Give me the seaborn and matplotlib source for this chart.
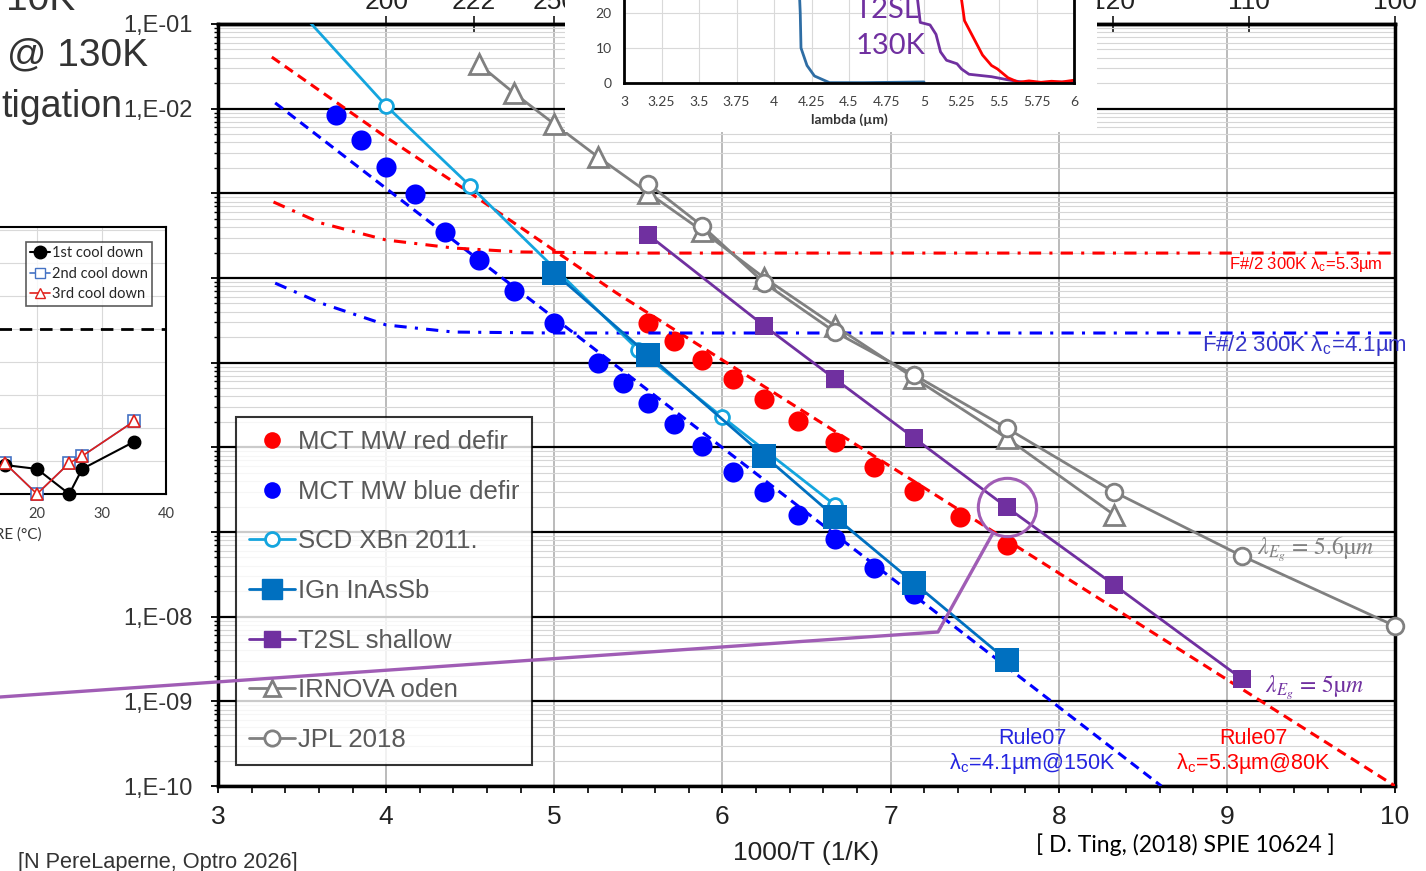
import numpy as np
import matplotlib
matplotlib.use("Agg")
import matplotlib.pyplot as plt
import matplotlib.ticker as mticker
from matplotlib.lines import Line2D
from matplotlib.patches import Rectangle
import seaborn as sns


# ---------------------------------------------------------------------------
# Main chart: dark current density vs 1000/T
# ---------------------------------------------------------------------------

mct_red_x = [5.56, 5.71, 5.88, 6.06, 6.25, 6.45, 6.67, 6.90, 7.14, 7.41, 7.69]
mct_red_y = [2.94e-5, 1.80e-5, 1.08e-5, 6.4e-6, 3.7e-6, 2.05e-6, 1.16e-6,
             5.9e-7, 3.05e-7, 1.50e-7, 7.0e-8]

mct_blue_x = [3.70, 3.85, 4.00, 4.17, 4.35, 4.55, 4.76, 5.00, 5.26, 5.41,
              5.56, 5.71, 5.88, 6.06, 6.25, 6.45, 6.67, 6.90, 7.14]
mct_blue_y = [8.4e-3, 4.27e-3, 2.05e-3, 9.8e-4, 3.5e-4, 1.63e-4, 7.0e-5,
              2.94e-5, 9.9e-6, 5.75e-6, 3.34e-6, 1.89e-6, 1.04e-6, 5.1e-7,
              2.97e-7, 1.59e-7, 8.3e-8, 3.76e-8, 1.85e-8]

scd_x = [3.33, 4.00, 4.50, 5.50, 6.00, 6.67]
scd_y = [0.31, 1.08e-2, 1.22e-3, 1.41e-5, 2.28e-6, 2.08e-7]

ign_x = [5.00, 5.56, 6.25, 6.67, 7.14, 7.69]
ign_y = [1.15e-4, 1.23e-5, 7.9e-7, 1.50e-7, 2.50e-8, 3.08e-9]

t2sl_x = [5.56, 6.25, 6.67, 7.14, 7.69, 8.33, 9.09]
t2sl_y = [3.22e-4, 2.71e-5, 6.41e-6, 1.29e-6, 1.97e-7, 2.37e-8, 1.84e-9]

irnova_x = [4.55, 4.76, 5.00, 5.26, 5.56, 5.88, 6.25, 6.67, 7.14, 7.69, 8.33]
irnova_y = [3.37e-2, 1.53e-2, 6.59e-3, 2.69e-3, 1.01e-3, 3.59e-4, 1.0e-4,
            2.71e-5, 6.59e-6, 1.29e-6, 1.59e-7]

jpl_x = [5.56, 5.88, 6.25, 6.67, 7.14, 7.69, 8.33, 9.09, 10.0]
jpl_y = [1.29e-3, 4.11e-4, 8.7e-5, 2.30e-5, 7.16e-6, 1.69e-6, 2.97e-7,
         5.21e-8, 7.76e-9]

# Rule07 and F/2 BLIP reference curves
rule_red_x = [3.32, 4.0, 4.5, 5.37, 7.69, 10.0]
rule_red_y = [4.07e-2, 4.6e-3, 1.01e-3, 6.65e-5, 8.05e-8, 1.0e-10]
rule_blue_x = [3.34, 8.61]
rule_blue_y = [1.17e-2, 1.0e-10]
blip_red_x = [3.33, 3.61, 4.0, 4.40, 4.80, 5.39, 10.0]
blip_red_y = [7.9e-4, 4.47e-4, 2.81e-4, 2.26e-4, 2.03e-4, 1.97e-4, 1.97e-4]
blip_blue_x = [3.34, 3.61, 4.0, 4.40, 4.99, 10.0]
blip_blue_y = [8.7e-5, 5.07e-5, 2.79e-5, 2.30e-5, 2.24e-5, 2.24e-5]

top_tick_pos = [4.0, 4.52, 5.0, 8.32, 9.13, 10.0]
top_tick_lab = ["200", "222", "250", "120", "110", "100"]
y_label_exps = [-1, -2, -8, -9, -10]

# ---------------------------------------------------------------------------
# Inset (top): spectral response vs lambda
# ---------------------------------------------------------------------------

lam_blue_x = [4.165, 4.175, 4.18, 4.22, 4.27, 4.37, 4.6, 4.8, 5.0]
lam_blue_y = [30, 20, 10, 5, 2, 0.1, 0.1, 0.2, 0.3]
lam_purple_x = [4.94, 4.975, 5.04, 5.08, 5.11, 5.15, 5.22, 5.25, 5.30,
                5.45, 5.56, 5.68, 6.0]
lam_purple_y = [30, 17.3, 16.6, 13.9, 8.9, 6.5, 5.5, 4.0, 2.5, 1.8, 0.9, 0.1, 0.3]
lam_red_x = [5.23, 5.27, 5.33, 5.39, 5.45, 5.49, 5.56, 5.63, 5.70, 5.78,
             5.85, 5.92, 6.00]
lam_red_y = [30, 17.8, 12.9, 8.0, 5.0, 4.0, 1.5, 0.2, 0.6, 0.2, 0.5, 0.3, 0.8]

# ---------------------------------------------------------------------------
# Inset (left): cool-down test vs temperature
# ---------------------------------------------------------------------------

temp_x = [15, 20, 25, 27, 35]
cool1_y = [0.88, 0.76, 0.0, 0.76, 1.58]
cool2_y = [0.94, 0.0, 0.94, 1.15, 2.2]
cool3_y = [0.94, 0.0, 0.94, 1.15, 2.2]
cool_limit = 5.0

W, H = 1426, 871
RED, BLUE = "#FF0000", "#0000FF"
SCD_C, IGN_C, T2SL_C, GRAY = "#14A5DE", "#0070C0", "#7030A0", "#808080"
CALLOUT = "#A05DB5"
NARROW = ["Liberation Sans Narrow", "Liberation Sans", "DejaVu Sans"]
CALIBRI = ["Lato", "DejaVu Sans"]


def rect(x0, y0, x1, y1):
    """pixel box (left, top, right, bottom) -> figure-fraction rect"""
    return [x0 / W, 1 - y1 / H, (x1 - x0) / W, (y1 - y0) / H]


def fx(x):
    return x / W


def fy(y):
    return 1 - y / H


sns.set_theme(style="white")
plt.rcParams["font.family"] = ["Liberation Sans", "DejaVu Sans"]
plt.rcParams["mathtext.fontset"] = "stix"

fig = plt.figure(figsize=(W / 100, H / 100), dpi=100)

# --- main axes ---
ax = fig.add_axes(rect(218, 24, 1395, 786))
ax.set_yscale("log")
ax.set_xlim(3, 10)
ax.set_ylim(1e-10, 1e-1)
ax.xaxis.set_major_locator(mticker.MultipleLocator(1))
ax.xaxis.set_minor_locator(mticker.MultipleLocator(0.2))
ax.yaxis.set_major_locator(mticker.LogLocator(base=10, numticks=20))
ax.yaxis.set_minor_locator(mticker.LogLocator(base=10, subs=np.arange(2, 10), numticks=20))
ax.yaxis.set_major_formatter(mticker.FuncFormatter(
    lambda v, p: f"1,E-{-int(round(np.log10(v))):02d}"
    if int(round(np.log10(v))) in y_label_exps else ""))
ax.yaxis.set_minor_formatter(mticker.NullFormatter())
ax.grid(True, which="minor", axis="y", color="#d6d6d6", lw=0.8)
ax.grid(True, which="major", axis="y", color="black", lw=1.6)
ax.grid(True, which="major", axis="x", color="#b5b5b5", lw=1.3)
ax.set_axisbelow(True)
for s in ax.spines.values():
    s.set_color("black")
    s.set_linewidth(2.5)
ax.tick_params(which="both", bottom=True, left=True, direction="out", color="black")
ax.tick_params(axis="x", which="major", length=5, width=1.3, labelsize=19,
               labelcolor="#222222", pad=9)
ax.tick_params(axis="x", which="minor", length=5, width=1.2)
ax.tick_params(axis="y", which="major", length=5, width=1.3, labelsize=17,
               labelcolor="#333333", pad=13)
ax.tick_params(axis="y", which="minor", length=3, width=1)
ax.set_xlabel("1000/T (1/K)", fontsize=19, color="#222222", labelpad=8)

sec = ax.secondary_xaxis("top")
sec.set_xticks(top_tick_pos, labels=top_tick_lab)
sec.tick_params(direction="inout", length=12, width=1.3, labelsize=19,
                labelcolor="#222222", pad=1)
sec.spines["top"].set_linewidth(2.5)

# data
sns.scatterplot(x=mct_red_x, y=mct_red_y, ax=ax, color=RED, s=210, linewidth=0, zorder=3)
sns.scatterplot(x=mct_blue_x, y=mct_blue_y, ax=ax, color=BLUE, s=210, linewidth=0, zorder=3)

ax.plot(rule_red_x, rule_red_y, color=RED, lw=2.2, ls=(0, (3.2, 2)), zorder=4)
ax.plot(rule_blue_x, rule_blue_y, color=BLUE, lw=2.2, ls=(0, (3.2, 2)), zorder=4)
ax.plot(blip_red_x, blip_red_y, color=RED, lw=2.2, ls=(0, (4, 2.7, 1, 2.7)), zorder=4)
ax.plot(blip_blue_x, blip_blue_y, color=BLUE, lw=2.2, ls=(0, (4, 2.7, 1, 2.7)), zorder=4)

sns.lineplot(x=scd_x, y=scd_y, ax=ax, color=SCD_C, lw=2, marker="o", ms=10,
             mfc="white", mec=SCD_C, mew=2, estimator=None, sort=False, zorder=5)
sns.lineplot(x=ign_x, y=ign_y, ax=ax, color=IGN_C, lw=2, marker="s", ms=17,
             mfc=IGN_C, mec=IGN_C, mew=0, estimator=None, sort=False, zorder=6)
sns.lineplot(x=t2sl_x, y=t2sl_y, ax=ax, color=T2SL_C, lw=2, marker="s", ms=13,
             mfc=T2SL_C, mec=T2SL_C, mew=0, estimator=None, sort=False, zorder=6)
sns.lineplot(x=irnova_x, y=irnova_y, ax=ax, color=GRAY, lw=2, marker="^", ms=14,
             mfc="white", mec=GRAY, mew=2, estimator=None, sort=False, zorder=6)
sns.lineplot(x=jpl_x, y=jpl_y, ax=ax, color=GRAY, lw=2, marker="o", ms=12,
             mfc="white", mec=GRAY, mew=2, estimator=None, sort=False, zorder=7,
             clip_on=False)

# callout circle around the 130K T2SL point
ax.plot(t2sl_x[4], t2sl_y[4], marker="o", ms=42, mfc="none", mec=CALLOUT, mew=2.2, zorder=8)
fig.add_artist(Line2D([fx(993), fx(938), fx(0)], [fy(533), fy(632), fy(697)],
                      transform=fig.transFigure, color=CALLOUT, lw=2.4, zorder=3))

handles = [
    Line2D([], [], ls="none", marker="o", ms=12, color=RED, mec="none", label="MCT MW red defir"),
    Line2D([], [], ls="none", marker="o", ms=12, color=BLUE, mec="none", label="MCT MW blue defir"),
    Line2D([], [], color=SCD_C, lw=2, marker="o", ms=10, mfc="white", mec=SCD_C, mew=2, label="SCD XBn 2011."),
    Line2D([], [], color=IGN_C, lw=2, marker="s", ms=14, mfc=IGN_C, mec=IGN_C, label="IGn InAsSb"),
    Line2D([], [], color=T2SL_C, lw=2, marker="s", ms=12, mfc=T2SL_C, mec=T2SL_C, label="T2SL shallow"),
    Line2D([], [], color=GRAY, lw=2, marker="^", ms=12, mfc="white", mec=GRAY, mew=2, label="IRNOVA oden"),
    Line2D([], [], color=GRAY, lw=2, marker="o", ms=11, mfc="white", mec=GRAY, mew=2, label="JPL 2018"),
]
leg = ax.legend(handles=handles, loc="upper left",
                bbox_to_anchor=((236 - 218) / 1177, (786 - 417) / 762),
                borderaxespad=0, frameon=True, fancybox=False, fontsize=18.5,
                labelcolor="#595959", handlelength=1.8, handletextpad=0.12,
                labelspacing=1.0, borderpad=0.5)
leg.get_frame().set_edgecolor("black")
leg.get_frame().set_linewidth(1.5)
leg.set_zorder(10)

# annotations
fig.text(fx(1383), fy(264), r"F#/2 300K λ$_\mathregular{c}$=5.3µm", ha="right", va="center",
         color=RED, fontsize=12, family=NARROW)
fig.text(fx(1407), fy(345), r"F#/2 300K λ$_\mathregular{c}$=4.1µm", ha="right", va="center",
         color="#3535C8", fontsize=16, family=NARROW)
fig.text(fx(1257), fy(549), r"$\lambda_{E_g}$ = 5.6µ$m$", ha="left", va="center",
         color=GRAY, fontsize=17, family="STIXGeneral")
fig.text(fx(1265), fy(688), r"$\lambda_{E_g}$ = 5µ$m$", ha="left", va="center",
         color=T2SL_C, fontsize=17, family="STIXGeneral")
fig.text(fx(1032), fy(752), "Rule07\n" + r"λ$_\mathregular{c}$=4.1µm@150K", ha="center",
         va="center", color="#2424E0", fontsize=15.5, linespacing=1.1)
fig.text(fx(1253), fy(752), "Rule07\n" + r"λ$_\mathregular{c}$=5.3µm@80K", ha="center",
         va="center", color=RED, fontsize=15.5, linespacing=1.1)
fig.text(fx(1185), fy(845), "[ D. Ting, (2018) SPIE 10624 ]", ha="center", va="center",
         color="black", fontsize=16.5, family=CALIBRI)
fig.text(fx(18), fy(862), "[N PereLaperne, Optro 2026]", ha="left", va="center",
         color="#333333", fontsize=15.7, family=NARROW)

# slide text fragments at top left
fig.text(fx(75), fy(10), "10K", ha="right", va="baseline", fontsize=28, color="#333333")
fig.text(fx(148), fy(65), "@ 130K", ha="right", va="baseline", fontsize=28, color="#333333")
fig.text(fx(122), fy(117), "tigation", ha="right", va="baseline", fontsize=27, color="#333333")

# --- top inset: spectral response ---
fig.add_artist(Rectangle((fx(565), fy(132)), (1097 - 565) / W, 132 / H,
                         transform=fig.transFigure, facecolor="white",
                         edgecolor="none", zorder=4))
axt = fig.add_axes(rect(624, -4.5, 1074, 83), zorder=6)
axt.set_facecolor("white")
sns.lineplot(x=lam_blue_x, y=lam_blue_y, ax=axt, color="#2E6DA4", lw=2,
             estimator=None, sort=False)
sns.lineplot(x=lam_purple_x, y=lam_purple_y, ax=axt, color=T2SL_C, lw=2,
             estimator=None, sort=False)
sns.lineplot(x=lam_red_x, y=lam_red_y, ax=axt, color=RED, lw=2,
             estimator=None, sort=False)
axt.set_xlim(3, 6)
axt.set_ylim(0, 25)
axt.set_xticks(np.arange(3, 6.01, 0.25))
axt.xaxis.set_major_formatter(mticker.FormatStrFormatter("%g"))
axt.set_yticks([0, 10, 20])
axt.grid(True, color="#d9d9d9", lw=0.8)
axt.spines["top"].set_visible(False)
for s in ["left", "bottom", "right"]:
    axt.spines[s].set_color("black")
    axt.spines[s].set_linewidth(2)
axt.tick_params(axis="x", length=0, labelsize=10, labelcolor="#404040", pad=9,
                labelfontfamily="Lato")
axt.tick_params(axis="y", length=0, labelsize=10, labelcolor="#404040", pad=9,
                labelfontfamily="Lato")
axt.set_xlabel("lambda (µm)", fontsize=10, fontweight="bold", family=CALIBRI,
               color="#333333", labelpad=4)
axt.set_ylabel("")
fig.text(fx(887), fy(10), "T2SL", ha="center", va="center", fontsize=21,
         color=T2SL_C, family=CALIBRI, zorder=10)
fig.text(fx(891), fy(46), "130K", ha="center", va="center", fontsize=21,
         color=T2SL_C, family=CALIBRI, zorder=10)

# --- left inset: cool-down test ---
axl = fig.add_axes(rect(-92, 227, 166, 494), zorder=5)
axl.set_facecolor("white")
axl.axhline(cool_limit, color="black", lw=2, ls=(0, (4.5, 2.8)))
sns.lineplot(x=temp_x, y=cool1_y, ax=axl, color="black", lw=1.5, marker="o", ms=9,
             mec="black", mew=1, estimator=None, sort=False, clip_on=False, zorder=5)
sns.lineplot(x=temp_x, y=cool2_y, ax=axl, color="#4472C4", lw=1.2, marker="s", ms=8,
             mfc="white", mec="#4472C4", mew=1.2, estimator=None, sort=False,
             clip_on=False, zorder=4)
sns.lineplot(x=temp_x, y=cool3_y, ax=axl, color="#E0201B", lw=1.2, marker="^", ms=8,
             mfc="white", mec="#E0201B", mew=1.2, estimator=None, sort=False,
             clip_on=False, zorder=6)
axl.set_xlim(0, 40)
axl.set_ylim(0, 8.1)
axl.set_xticks([0, 10, 20, 30, 40])
axl.set_yticks(range(0, 9))
axl.set_yticklabels([])
axl.grid(True, color="#d9d9d9", lw=0.8)
axl.spines["left"].set_visible(False)
for s in ["top", "bottom", "right"]:
    axl.spines[s].set_color("black")
    axl.spines[s].set_linewidth(1.5)
axl.tick_params(axis="x", length=0, labelsize=10.5, labelcolor="#404040", pad=9,
                labelfontfamily="Lato")
axl.tick_params(axis="y", length=0)
axl.set_xlabel("")
axl.set_ylabel("")
cool_handles = [
    Line2D([], [], color="black", lw=1.5, marker="o", ms=9, label="1st cool down"),
    Line2D([], [], color="#4472C4", lw=1.2, marker="s", ms=7, mfc="white", mec="#4472C4", label="2nd cool down"),
    Line2D([], [], color="#E0201B", lw=1.2, marker="^", ms=7, mfc="white", mec="#E0201B", label="3rd cool down"),
]
leg2 = axl.legend(handles=cool_handles, loc="upper right", bbox_to_anchor=(0.946, 0.944),
                  borderaxespad=0, frameon=True, fancybox=False,
                  prop={"family": CALIBRI, "size": 10.5}, handlelength=1.4,
                  handletextpad=0.1, labelspacing=0.45, borderpad=0.3)
leg2.get_frame().set_edgecolor("#333333")
leg2.get_frame().set_linewidth(1.2)
fig.text(fx(42), fy(535), "TEMPERATURE (°C)", ha="right", va="center", fontsize=11,
         color="#333333", family=CALIBRI, zorder=10)

fig.savefig("out.png", dpi=100)
